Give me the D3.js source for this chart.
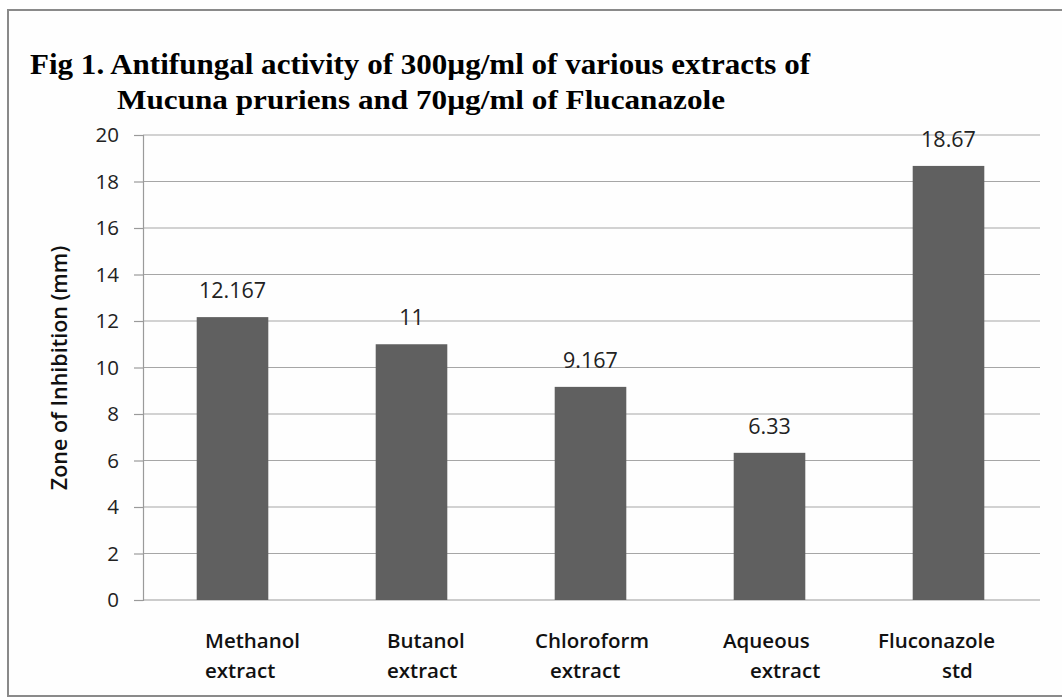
<!DOCTYPE html>
<html><head><meta charset="utf-8">
<script src="https://cdn.jsdelivr.net/npm/d3@7"></script>
<style>body{margin:0;background:#fff}svg{display:block}</style>
</head><body>
<svg id="c" width="1062" height="698"></svg>
<script>
const categories = ["Methanol extract","Butanol extract","Chloroform extract","Aqueous extract","Fluconazole std"];
const labelLines = [["Methanol","extract"],["Butanol","extract"],["Chloroform","extract"],["Aqueous","extract"],["Fluconazole","std"]];
const values = [12.167, 11, 9.167, 6.33, 18.67];
const valueLabels = ["12.167","11","9.167","6.33","18.67"];
const yTicks = [0,2,4,6,8,10,12,14,16,18,20];
const titleLines = ["Fig 1. Antifungal activity of 300µg/ml of various extracts of","Mucuna pruriens and 70µg/ml of Flucanazole"];
const yTitle = "Zone of Inhibition (mm)";

const svg = d3.select("#c");
svg.append("rect").attr("x",0).attr("y",0).attr("width",1062).attr("height",698).attr("fill","#fff");
svg.append("rect").attr("x",8).attr("y",10).attr("width",1070).attr("height",686)
  .attr("fill","#fefefe").attr("stroke","#8a8a8a").attr("stroke-width",2);

const m = {l:143, r:1038, t:135, b:600};
const x = d3.scaleBand().domain(categories).range([m.l, m.r]).paddingInner(0.6).paddingOuter(0.3);
const y = d3.scaleLinear().domain([0,20]).range([m.b, m.t]);

// gridlines
svg.append("g").selectAll("line").data(yTicks.filter(d=>d>0)).join("line")
  .attr("x1",m.l).attr("x2",1040).attr("y1",d=>y(d)).attr("y2",d=>y(d))
  .attr("stroke","#a6a6a6").attr("stroke-width",1.2);

// y axis
const ya = svg.append("g").attr("transform",`translate(${m.l},0)`)
  .call(d3.axisLeft(y).tickValues(yTicks).tickSize(9).tickPadding(15));
ya.select(".domain").attr("stroke","#9a9a9a").attr("stroke-width",1.2);
ya.selectAll(".tick line").attr("stroke","#9a9a9a").attr("stroke-width",1.2);
ya.selectAll(".tick text").attr("font-family","'Open Sans', sans-serif").attr("font-size",20.5).attr("fill","#222");

// x baseline
svg.append("line").attr("x1",m.l).attr("x2",1040).attr("y1",y(0)).attr("y2",y(0))
  .attr("stroke","#9a9a9a").attr("stroke-width",1.2);

// bars
svg.append("g").selectAll("rect").data(values).join("rect")
  .attr("x",(d,i)=>x(categories[i])).attr("width",x.bandwidth())
  .attr("y",d=>y(d)).attr("height",d=>y(0)-y(d)).attr("fill","#606060");

// value labels
svg.append("g").selectAll("text").data(values).join("text")
  .attr("x",(d,i)=>x(categories[i])+x.bandwidth()/2).attr("y",d=>y(d)-19)
  .attr("text-anchor","middle").attr("font-family","'Open Sans', sans-serif").attr("font-size",21.5).attr("fill","#222")
  .text((d,i)=>valueLabels[i]);

// category labels (Excel-style line placement, left-aligned offsets from bar centre)
const lineOffsets = [[-27.5,-27.5],[-24.5,-24.5],[-55.5,-40.5],[-46.5,-19.5],[-70.5,-6.5]];
const cl = svg.append("g");
labelLines.forEach((lines,i)=>{
  const cx = x(categories[i]) + x.bandwidth()/2;
  lines.forEach((t,j)=>{
    cl.append("text").attr("x",cx+lineOffsets[i][j]).attr("y",648+j*30)
      .attr("text-anchor","start").attr("font-family","'Open Sans',sans-serif")
      .attr("font-weight",600).attr("font-size",20.5).attr("fill","#111").text(t);
  });
});

// y title
svg.append("text").attr("transform",`translate(67,${368}) rotate(-90)`)
  .attr("text-anchor","middle").attr("font-family","'Open Sans', sans-serif").attr("font-weight",600)
  .attr("font-size",21.5).attr("fill","#111").text(yTitle);

// title
svg.append("text").attr("x",30).attr("y",74).attr("font-family","'Liberation Serif',serif").attr("font-weight","bold")
  .attr("font-size",29).attr("textLength",780).attr("lengthAdjust","spacingAndGlyphs").attr("fill","#000").text(titleLines[0]);
svg.append("text").attr("x",117).attr("y",109).attr("font-family","'Liberation Serif',serif").attr("font-weight","bold")
  .attr("font-size",28).attr("textLength",608).attr("lengthAdjust","spacingAndGlyphs").attr("fill","#000").text(titleLines[1]);
</script>
</body></html>
